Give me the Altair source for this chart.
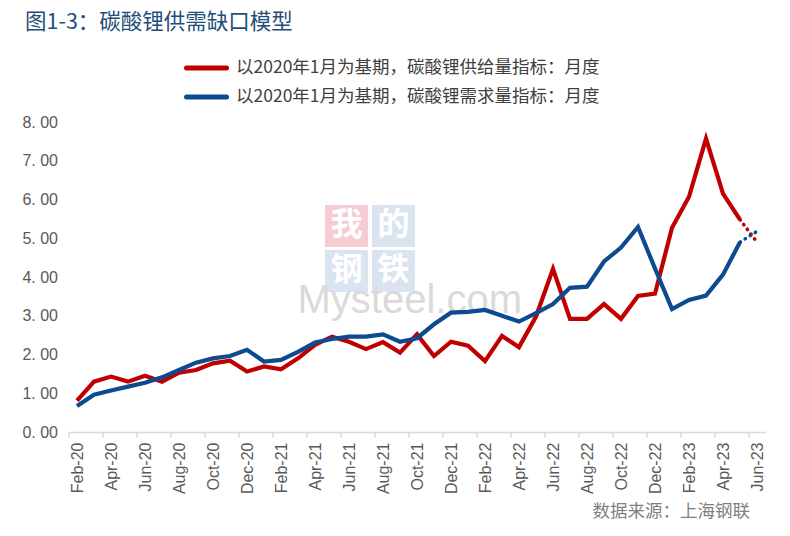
import altair as alt
import pandas as pd

months = ["Feb-20", "Mar-20", "Apr-20", "May-20", "Jun-20", "Jul-20", "Aug-20", "Sep-20", "Oct-20", "Nov-20", "Dec-20",
          "Jan-21", "Feb-21", "Mar-21", "Apr-21", "May-21", "Jun-21", "Jul-21", "Aug-21", "Sep-21", "Oct-21", "Nov-21", "Dec-21",
          "Jan-22", "Feb-22", "Mar-22", "Apr-22", "May-22", "Jun-22", "Jul-22", "Aug-22", "Sep-22", "Oct-22", "Nov-22", "Dec-22",
          "Jan-23", "Feb-23", "Mar-23", "Apr-23", "May-23", "Jun-23"]

supply = [0.81, 1.30, 1.43, 1.30, 1.45, 1.30, 1.53, 1.60, 1.77, 1.84, 1.56,
          1.69, 1.62, 1.90, 2.25, 2.46, 2.33, 2.14, 2.32, 2.05, 2.52, 1.96, 2.33,
          2.23, 1.83, 2.48, 2.19, 2.98, 4.21, 2.92, 2.92, 3.30, 2.92, 3.51, 3.57,
          5.27, 6.07, 7.57, 6.15, 5.48, 4.90]

demand = [0.67, 0.96, 1.07, 1.17, 1.27, 1.41, 1.60, 1.79, 1.90, 1.96, 2.12,
          1.82, 1.86, 2.07, 2.31, 2.40, 2.46, 2.46, 2.52, 2.33, 2.42, 2.78, 3.08,
          3.10, 3.15, 3.00, 2.85, 3.07, 3.30, 3.72, 3.75, 4.40, 4.76, 5.29, 4.22,
          3.17, 3.41, 3.52, 4.06, 4.90, 5.18]

s1 = "以2020年1月为基期，碳酸锂供给量指标：月度"
s2 = "以2020年1月为基期，碳酸锂需求量指标：月度"
series_names = [s1, s2]
title_text = "图1-3：碳酸锂供需缺口模型"
source_text = "数据来源：上海钢联"
y_ticks = [0, 1, 2, 3, 4, 5, 6, 7, 8]
x_tick_idx = list(range(0, 41, 2))

RED = "#C00000"
BLUE = "#0D4A8F"

rows = []
for name, vals in ((s1, supply), (s2, demand)):
    for i, v in enumerate(vals):
        rows.append({"idx": i, "value": v, "series": name})
df = pd.DataFrame(rows)
last_solid = len(months) - 2

label_js = "[" + ",".join("'" + m + "'" for m in months) + "][datum.value]"

x_enc = alt.X("idx:Q",
              scale=alt.Scale(domain=[-0.5, len(months) - 0.5], nice=False, zero=False),
              axis=alt.Axis(values=x_tick_idx, labelExpr=label_js, labelAngle=270,
                            title=None, grid=False, domainColor="#D9D9D9", domainWidth=1.5,
                            tickColor="#D9D9D9", tickWidth=1.5, tickSize=5,
                            tickOffset=-8.5, labelOffset=8.5, labelPadding=5,
                            labelFont="Liberation Sans", labelFontSize=16, labelColor="#595959",
                            labelFlush=False, labelOverlap=False))
y_enc = alt.Y("value:Q",
              scale=alt.Scale(domain=[0, 8], nice=False, zero=True),
              axis=alt.Axis(values=y_ticks, labelExpr="replace(format(datum.value, '.2f'), '.', '. ')",
                            title=None, grid=False, domain=False, ticks=False, tickSize=0,
                            labelPadding=11, labelFont="Liberation Sans", labelFontSize=16,
                            labelColor="#595959"))
color_enc = alt.Color("series:N", scale=alt.Scale(domain=series_names, range=[RED, BLUE]), legend=None)

solid = alt.Chart(df).transform_filter(alt.datum.idx <= last_solid).mark_line(
    strokeWidth=4.2, strokeJoin="miter", strokeCap="butt").encode(x=x_enc, y=y_enc, color=color_enc)
dotted = alt.Chart(df).transform_filter(alt.datum.idx >= last_solid).mark_line(
    strokeWidth=3.5, strokeDash=[0.5, 5.5], strokeCap="round").encode(x=x_enc, y=y_enc, color=color_enc)


def one(text):
    return alt.Chart(pd.DataFrame({"t": [text]}))


layers = []
# watermark
boxes = [("我", 256.5, 83, "#F3C3CA"), ("的", 303.5, 83, "#D3DFEE"),
         ("钢", 256.5, 128, "#D3DFEE"), ("铁", 303.5, 128, "#D3DFEE")]
for ch, bx, by, col in boxes:
    layers.append(one(ch).mark_rect(color=col, opacity=0.85).encode(
        x=alt.value(bx), x2=alt.value(bx + 43), y=alt.value(by), y2=alt.value(by + 42)))
    layers.append(one(ch).mark_text(font="Noto Sans CJK SC", fontSize=32, fontWeight="bold",
                                    color="white", align="center", baseline="middle").encode(
        text="t:N", x=alt.value(bx + 21.5), y=alt.value(by + 20)))
layers.append(one("Mysteel.com").mark_text(font="Liberation Sans", fontSize=40, color="#DADADA",
                                            align="left", baseline="alphabetic").encode(
    text="t:N", x=alt.value(229), y=alt.value(191)))

layers += [solid, dotted]

# title
layers.append(one(title_text).mark_text(font="Noto Sans CJK SC", fontSize=21.5, color="#1F4E79",
                                         align="left", baseline="middle").encode(
    text="t:N", x=alt.value(-43.5), y=alt.value(-99.5)))
# legend
for name, col, ly in ((s1, RED, -54), (s2, BLUE, -25)):
    layers.append(one(name).mark_rule(color=col, strokeWidth=5, strokeCap="round").encode(
        x=alt.value(118), x2=alt.value(158), y=alt.value(ly)))
    layers.append(one(name).mark_text(font="Noto Sans CJK SC", fontSize=17.5, color="#404040",
                                      align="left", baseline="middle").encode(
        text="t:N", x=alt.value(167.5), y=alt.value(ly)))
# source
layers.append(one(source_text).mark_text(font="Noto Sans CJK SC", fontSize=17.5, color="#7F7F7F",
                                          align="right", baseline="middle").encode(
    text="t:N", x=alt.value(681.5), y=alt.value(390)))

chart = alt.layer(*layers).properties(
    width=697, height=310,
    autosize=alt.AutoSizeParams(type="none"),
    padding={"left": 60.5, "top": 114, "right": 16, "bottom": 96},
    background="white",
).configure_view(stroke=None)

chart.save("out.html", embed_options={"renderer": "svg", "actions": False})
